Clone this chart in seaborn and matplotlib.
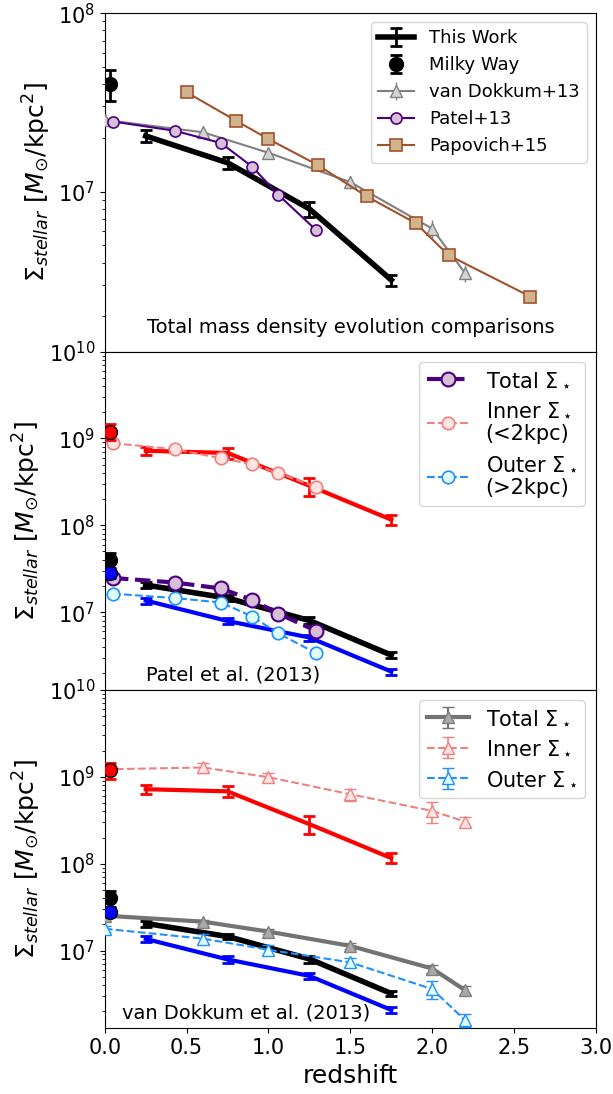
import matplotlib
matplotlib.use('Agg')
import matplotlib.pyplot as plt
import seaborn as sns

# ---- values ----
# This Work
this_z = [0.25, 0.75, 1.25, 1.75]
this_tot = [2.05e7, 1.45e7, 8.0e6, 3.2e6]
this_tot_err = [0.16e7, 0.11e7, 0.75e6, 0.23e6]
this_inner = [7.2e8, 6.8e8, 2.85e8, 1.16e8]
this_inner_err = [0.8e8, 1.0e8, 0.68e8, 0.15e8]
this_outer = [1.36e7, 7.9e6, 5.1e6, 2.07e6]
this_outer_err = [0.11e7, 0.65e6, 0.42e6, 0.17e6]

# Milky Way
mw_z = [0.03]
mw_tot = [4.0e7]
mw_tot_err = [0.8e7]
mw_inner = [1.2e9]
mw_inner_err = [0.25e9]
mw_outer = [2.8e7]
mw_outer_err = [0.3e7]

# van Dokkum+13
vd_z = [0.0, 0.6, 1.0, 1.5, 2.0, 2.2]
vd_tot = [2.52e7, 2.15e7, 1.65e7, 1.13e7, 6.2e6, 3.5e6]
vd_tot_err = [0.1e7, 0.12e7, 0.1e7, 0.1e7, 0.7e6, 0.4e6]
vd_inner = [1.22e9, 1.28e9, 9.9e8, 6.3e8, 4.05e8, 3.05e8]
vd_inner_err = [0.1e9, 1.7e8, 1.1e8, 1.0e8, 1.1e8, 0.43e8]
vd_outer = [1.78e7, 1.37e7, 1.02e7, 7.3e6, 3.6e6, 1.58e6]
vd_outer_err = [0.15e7, 0.19e7, 0.13e7, 0.85e6, 0.8e6, 0.27e6]

# Patel+13
pa_z = [0.05, 0.43, 0.71, 0.9, 1.06, 1.29]
pa_tot = [2.47e7, 2.19e7, 1.87e7, 1.38e7, 9.6e6, 6.1e6]
pa_inner = [8.8e8, 7.5e8, 5.9e8, 5.05e8, 3.98e8, 2.77e8]
pa_outer = [1.63e7, 1.45e7, 1.29e7, 8.9e6, 5.7e6, 3.37e6]

# Papovich+15
pp_z = [0.5, 0.8, 1.0, 1.3, 1.6, 1.9, 2.1, 2.6]
pp_tot = [3.6e7, 2.5e7, 1.97e7, 1.41e7, 9.4e6, 6.65e6, 4.4e6, 2.58e6]

ylab = r'$\Sigma_{stellar}$ [$M_{\odot}$/kpc$^2$]'
sig = r'$\Sigma_\star$'

plt.rcParams['font.family'] = 'DejaVu Sans'
plt.rcParams['xtick.labelsize'] = 15
plt.rcParams['ytick.labelsize'] = 15

fig, axes = plt.subplots(3, 1, figsize=(6.13, 10.94), dpi=100, sharex=True)
fig.subplots_adjust(left=0.171, right=0.972, top=0.988, bottom=0.060, hspace=0)

eb_thick = dict(elinewidth=2, capsize=4, capthick=2)

def this_work(ax, lw_k):
    # red / black / blue "This Work" curves plus Milky Way points
    ax.errorbar(this_z, this_inner, yerr=this_inner_err, color='red', lw=3, zorder=2, **eb_thick)
    ax.errorbar(this_z, this_tot, yerr=this_tot_err, color='k', lw=lw_k, zorder=2, **eb_thick)
    ax.errorbar(this_z, this_outer, yerr=this_outer_err, color='blue', lw=3, zorder=2, **eb_thick)
    ax.errorbar(mw_z, mw_inner, yerr=mw_inner_err, fmt='o', color='red', mec='k', ms=10, zorder=6, **eb_thick)
    ax.errorbar(mw_z, mw_tot, yerr=mw_tot_err, fmt='o', color='k', ms=10, zorder=6, **eb_thick)
    ax.errorbar(mw_z, mw_outer, yerr=mw_outer_err, fmt='o', color='blue', mec='k', ms=10, zorder=6, **eb_thick)

# ---- top panel: total mass density comparisons ----
ax = axes[0]
ax.set_yscale('log')
h1 = ax.errorbar(this_z, this_tot, yerr=this_tot_err, color='k', lw=4, zorder=2, **eb_thick)
h2 = ax.errorbar(mw_z, mw_tot, yerr=mw_tot_err, fmt='o', color='k', ms=10, zorder=6, **eb_thick)
h3 = ax.errorbar(vd_z, vd_tot, yerr=vd_tot_err, color='gray', lw=1.5, marker='^', ms=8,
                 mfc='lightgray', mec='gray', elinewidth=1, zorder=3)
sns.lineplot(x=pa_z, y=pa_tot, ax=ax, color='indigo', lw=1.5, marker='o', ms=8,
             mfc='thistle', mec='indigo', mew=1.2, sort=False, label='Patel+13', zorder=4)
sns.lineplot(x=pp_z, y=pp_tot, ax=ax, color='sienna', lw=1.5, marker='s', ms=8,
             mfc='tan', mec='sienna', mew=1.2, sort=False, label='Papovich+15', zorder=4)
lines = ax.get_lines()
h4, h5 = lines[-2], lines[-1]
ax.legend([h1, h2, h3, h4, h5],
          ['This Work', 'Milky Way', 'van Dokkum+13', 'Patel+13', 'Papovich+15'],
          loc='upper right', fontsize=13)
ax.set_ylim(1.27e6, 1e8)
ax.text(0.5, 0.07, 'Total mass density evolution comparisons', transform=ax.transAxes,
        ha='center', va='center', fontsize=14)

# ---- middle panel: Patel et al. (2013) ----
ax = axes[1]
ax.set_yscale('log')
this_work(ax, 4)
sns.lineplot(x=pa_z, y=pa_tot, ax=ax, color='indigo', lw=3, ls='--', marker='o', ms=10,
             mfc='thistle', mec='indigo', mew=1.5, sort=False, label='Total ' + sig, zorder=4)
sns.lineplot(x=pa_z, y=pa_inner, ax=ax, color='lightcoral', lw=1.5, ls='--', marker='o', ms=9,
             mfc='mistyrose', mec='lightcoral', mew=1.2, sort=False,
             label='Inner ' + sig + '\n(<2kpc)', zorder=3)
sns.lineplot(x=pa_z, y=pa_outer, ax=ax, color='dodgerblue', lw=1.5, ls='--', marker='o', ms=9,
             mfc='lightcyan', mec='dodgerblue', mew=1.2, sort=False,
             label='Outer ' + sig + '\n(>2kpc)', zorder=3)
lines = ax.get_lines()
ax.legend(lines[-3:], ['Total ' + sig, 'Inner ' + sig + '\n(<2kpc)', 'Outer ' + sig + '\n(>2kpc)'],
          loc='upper right', fontsize=15)
ax.set_ylim(1.27e6, 1e10)
ax.text(0.084, 0.044, 'Patel et al. (2013)', transform=ax.transAxes,
        ha='left', va='center', fontsize=14)

# ---- bottom panel: van Dokkum et al. (2013) ----
ax = axes[2]
ax.set_yscale('log')
this_work(ax, 4)
g1 = ax.errorbar(vd_z, vd_tot, yerr=vd_tot_err, color='#737373', lw=3, marker='^', ms=9,
                 mfc='darkgray', mec='gray', elinewidth=1.5, capsize=4, zorder=4)
g2 = ax.errorbar(vd_z, vd_inner, yerr=vd_inner_err, color='lightcoral', lw=1.5, ls='--',
                 marker='^', ms=9, mfc='mistyrose', mec='lightcoral', elinewidth=1.2,
                 capsize=4, zorder=3)
g3 = ax.errorbar(vd_z, vd_outer, yerr=vd_outer_err, color='dodgerblue', lw=1.5, ls='--',
                 marker='^', ms=9, mfc='lightcyan', mec='dodgerblue', elinewidth=1.2,
                 capsize=4, zorder=3)
ax.legend([g1, g2, g3], ['Total ' + sig, 'Inner ' + sig, 'Outer ' + sig],
          loc='upper right', fontsize=15)
ax.set_ylim(1.27e6, 1e10)
ax.text(0.034, 0.044, 'van Dokkum et al. (2013)', transform=ax.transAxes,
        ha='left', va='center', fontsize=14)

for ax in axes:
    ax.set_ylabel(ylab, fontsize=18)
    ax.set_xlim(0, 3)
axes[2].set_xlabel('redshift', fontsize=18)
axes[2].set_xticks([0.0, 0.5, 1.0, 1.5, 2.0, 2.5, 3.0])

fig.savefig('out.png', dpi=100)
